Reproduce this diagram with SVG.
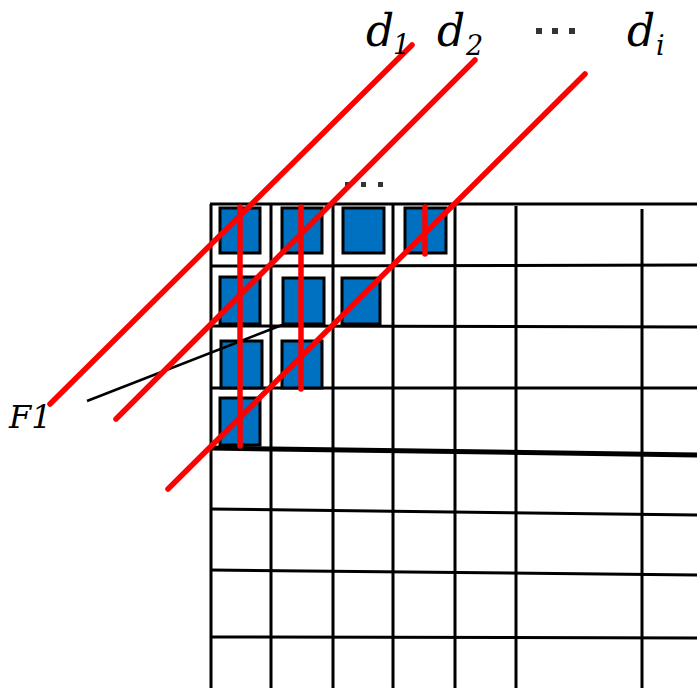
<svg xmlns="http://www.w3.org/2000/svg" width="697" height="688" viewBox="0 0 697 688">
<style>
.g{stroke:#000;stroke-width:3;fill:none}
.cell{fill:#0070C0;stroke:#000;stroke-width:3}
.r{stroke:#FF0000;stroke-width:5.5;stroke-linecap:round;fill:none}
.lbl{font-family:"DejaVu Serif","Liberation Serif",serif;font-style:italic;fill:#000}
.dot{fill:#333}
</style>
<rect width="697" height="688" fill="#fff"/>
<g id="grid">
<line class="g" x1="210" y1="204" x2="697" y2="204"/>
<line class="g" x1="210" y1="266" x2="697" y2="265"/>
<line class="g" x1="210" y1="326" x2="697" y2="327"/>
<line class="g" x1="210" y1="388" x2="697" y2="388"/>
<line x1="210" y1="448" x2="697" y2="455" stroke="#000" stroke-width="5"/>
<line class="g" x1="210" y1="509" x2="697" y2="515"/>
<line class="g" x1="210" y1="570" x2="697" y2="575"/>
<line class="g" x1="210" y1="637" x2="697" y2="638"/>
<line class="g" x1="211" y1="204" x2="211" y2="688"/>
<line class="g" x1="271" y1="204" x2="271" y2="688"/>
<line class="g" x1="333" y1="204" x2="333" y2="688"/>
<line class="g" x1="393" y1="204" x2="393" y2="688"/>
<line class="g" x1="455" y1="204" x2="455" y2="688"/>
<line class="g" x1="516" y1="206" x2="516" y2="688"/>
<line class="g" x1="642" y1="209" x2="642" y2="688"/>
</g>
<g id="cells">
<rect class="cell" x="220" y="208" width="40" height="45"/>
<rect class="cell" x="282" y="208" width="40" height="45"/>
<rect class="cell" x="343" y="208" width="41" height="45"/>
<rect class="cell" x="405" y="208" width="41" height="45"/>
<rect class="cell" x="220" y="277" width="40" height="47"/>
<rect class="cell" x="283" y="278" width="41" height="46"/>
<rect class="cell" x="342" y="278" width="38" height="46"/>
<rect class="cell" x="221" y="341" width="41" height="47"/>
<rect class="cell" x="282" y="341" width="40" height="47"/>
<rect class="cell" x="220" y="398" width="40" height="47"/>
</g>
<g id="dots-top">
<rect class="dot" x="345" y="182" width="5" height="5"/>
<rect class="dot" x="361" y="182" width="5" height="5"/>
<rect class="dot" x="378" y="182" width="5" height="5"/>
</g>
<g id="connectors">
<line x1="87" y1="401" x2="282" y2="325" stroke="#000" stroke-width="2.5"/>
<line class="r" x1="240" y1="207" x2="240" y2="446"/>
<line class="r" x1="301" y1="207" x2="301" y2="389"/>
<line class="r" x1="425" y1="207" x2="425" y2="254"/>
<line class="r" x1="50" y1="404" x2="412" y2="45"/>
<line class="r" x1="116" y1="419" x2="475" y2="60"/>
<line class="r" x1="168" y1="489" x2="585" y2="74"/>
</g>
<g id="labels">
<text class="lbl" x="9" y="428" font-size="32">F1</text>
<text class="lbl" x="366" y="46" font-size="44">d</text>
<text class="lbl" x="393" y="54" font-size="27">1</text>
<text class="lbl" x="437" y="46" font-size="44">d</text>
<text class="lbl" x="466" y="55" font-size="27">2</text>
<text class="lbl" x="627" y="46" font-size="44">d</text>
<text class="lbl" x="656" y="55" font-size="27">i</text>
<rect class="dot" x="536" y="28" width="6" height="6"/>
<rect class="dot" x="552" y="28" width="6" height="6"/>
<rect class="dot" x="569" y="28" width="6" height="6"/>
</g>
</svg>
